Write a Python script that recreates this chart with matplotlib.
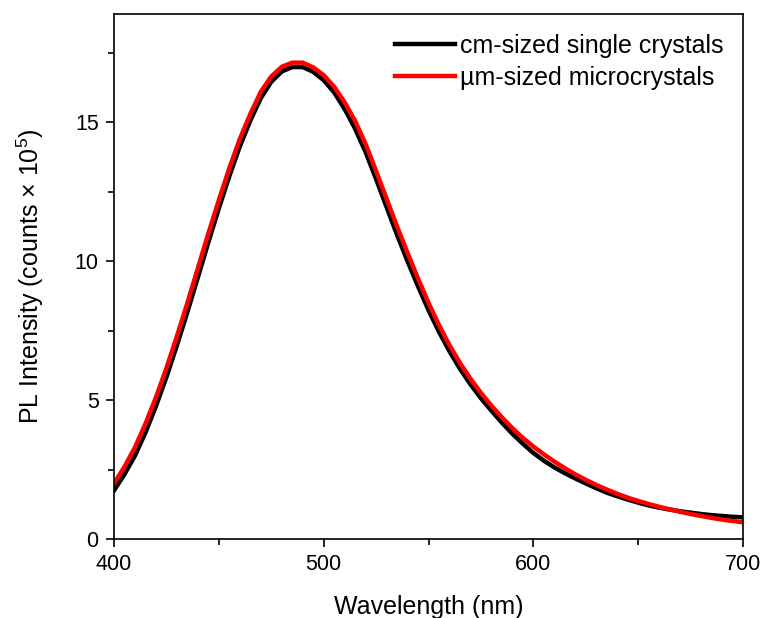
import matplotlib
matplotlib.use('Agg')
import matplotlib.pyplot as plt
from matplotlib.ticker import MultipleLocator

plt.rcParams['font.family'] = ['Liberation Sans', 'DejaVu Sans']
plt.rcParams['mathtext.fontset'] = 'custom'
plt.rcParams['mathtext.rm'] = 'Liberation Sans'
plt.rcParams['mathtext.it'] = 'Liberation Sans'

# wavelength (nm)
wl = [400, 405, 410, 415, 420, 425, 430, 435, 440, 445, 450, 455, 460, 465, 470,
      475, 480, 485, 490, 495, 500, 505, 510, 515, 520, 525, 530, 535, 540, 545,
      550, 555, 560, 565, 570, 575, 580, 585, 590, 595, 600, 605, 610, 615, 620,
      625, 630, 635, 640, 645, 650, 655, 660, 665, 670, 675, 680, 685, 690, 695, 700]
# PL intensity (counts x 1e5)
cm_single = [1.75, 2.33, 3.0, 3.83, 4.78, 5.83, 6.97, 8.17, 9.42, 10.68, 11.9, 13.06, 14.13, 15.06, 15.87,
             16.46, 16.83, 16.99, 16.99, 16.82, 16.52, 16.08, 15.48, 14.77, 13.93, 12.96, 11.95, 10.95, 10.0, 9.1,
             8.24, 7.46, 6.76, 6.13, 5.57, 5.07, 4.62, 4.19, 3.79, 3.43, 3.1, 2.82, 2.58, 2.37, 2.18,
             2.0, 1.83, 1.67, 1.54, 1.42, 1.31, 1.21, 1.13, 1.06, 1.0, 0.95, 0.9, 0.86, 0.83, 0.8, 0.78]
um_micro = [2.0, 2.6, 3.3, 4.15, 5.1, 6.15, 7.3, 8.5, 9.75, 11.0, 12.2, 13.35, 14.4, 15.3, 16.1,
            16.65, 17.0, 17.15, 17.15, 16.98, 16.7, 16.28, 15.72, 15.05, 14.22, 13.25, 12.25, 11.25, 10.3, 9.38,
            8.5, 7.7, 6.98, 6.34, 5.77, 5.26, 4.8, 4.38, 3.99, 3.64, 3.33, 3.05, 2.79, 2.55, 2.33,
            2.13, 1.95, 1.78, 1.63, 1.49, 1.37, 1.26, 1.16, 1.07, 0.98, 0.9, 0.83, 0.76, 0.7, 0.65, 0.6]

fig = plt.figure(figsize=(7.63, 6.18), dpi=100)
ax = fig.add_axes([0.1494, 0.1278, 0.8244, 0.8495])

ax.plot(wl, cm_single, color='black', lw=3.2, label='cm-sized single crystals')
ax.plot(wl, um_micro, color='red', lw=3.2, label='\u00b5m-sized microcrystals')

ax.set_xlim(400, 700)
ax.set_ylim(0, 18.9)
ax.xaxis.set_major_locator(MultipleLocator(100))
ax.xaxis.set_minor_locator(MultipleLocator(50))
ax.yaxis.set_major_locator(MultipleLocator(5))
ax.yaxis.set_minor_locator(MultipleLocator(2.5))
ax.tick_params(which='both', direction='out', width=1.2, labelsize=15.5, top=False, right=False)
ax.tick_params(which='major', length=6, pad=5)
ax.tick_params(which='minor', length=4)
for s in ax.spines.values():
    s.set_linewidth(1.2)

ax.set_xlabel('Wavelength (nm)', fontsize=18, labelpad=14)
ax.set_ylabel('PL Intensity (counts \u00d7 10$^{5}$)', fontsize=18, labelpad=21)

ax.legend(loc='upper right', frameon=False, fontsize=18, handlelength=2.4,
          handletextpad=0.2, labelspacing=0.32, borderaxespad=0.4)

plt.savefig('out.png', dpi=100)
plt.close()
